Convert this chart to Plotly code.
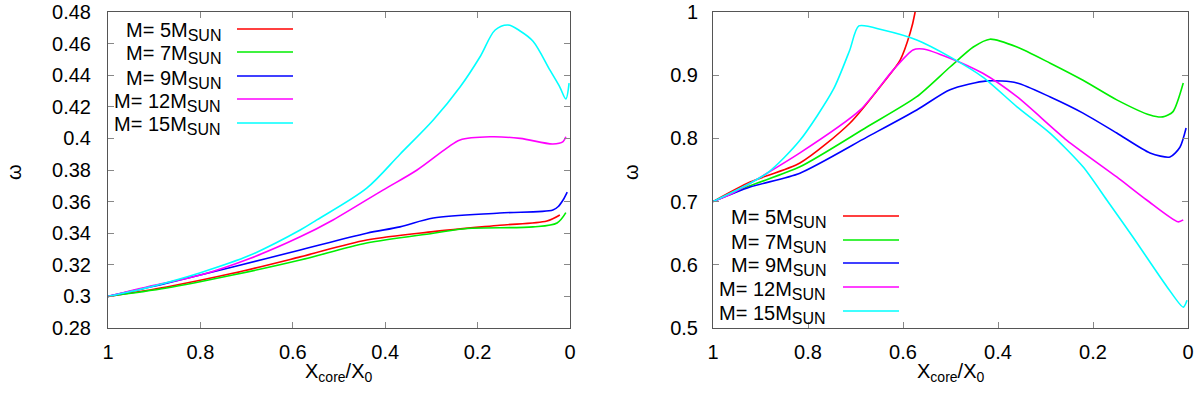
import plotly.graph_objects as go

# ---------------- data ----------------
labels = ["M= 5M", "M= 7M", "M= 9M", "M= 12M", "M= 15M"]
sub = "SUN"
colors = ["#ff0000", "#00ee00", "#0000ff", "#ff00ff", "#00ffff"]

# Left panel
L_X5 = [1, 0.873, 0.73, 0.584, 0.44, 0.296, 0.152, 0.05, 0.022]
L_W5 = [0.3, 0.306, 0.3146, 0.325, 0.3357, 0.341, 0.345, 0.3477, 0.3515]
L_X7 = [1, 0.873, 0.73, 0.584, 0.44, 0.296, 0.223, 0.08, 0.028, 0.009]
L_W7 = [0.3, 0.3053, 0.3135, 0.323, 0.3338, 0.340, 0.343, 0.344, 0.3465, 0.353]
L_X9 = [1, 0.873, 0.73, 0.584, 0.44, 0.368, 0.296, 0.152, 0.037, 0.025, 0.015, 0.006]
L_W9 = [0.3, 0.3084, 0.3186, 0.3294, 0.340, 0.344, 0.3496, 0.3528, 0.3547, 0.357, 0.361, 0.366]
L_X12 = [1, 0.9, 0.8, 0.693, 0.584, 0.513, 0.405, 0.331, 0.266, 0.238, 0.173, 0.108, 0.037, 0.015, 0.009]
L_W12 = [0.3, 0.307, 0.3135, 0.324, 0.3377, 0.3484, 0.3673, 0.380, 0.394, 0.399, 0.401, 0.400, 0.3965, 0.398, 0.401]
L_X15 = [1, 0.909, 0.8, 0.693, 0.584, 0.548, 0.44, 0.368, 0.296, 0.238, 0.195, 0.162, 0.134, 0.108, 0.08, 0.043, 0.022, 0.009, 0.002]
L_W15 = [0.3, 0.306, 0.315, 0.326, 0.342, 0.3484, 0.3685, 0.3900, 0.4116, 0.4325, 0.4515, 0.4686, 0.4718, 0.468, 0.4615, 0.443, 0.4325, 0.425, 0.435]

# Right panel
R_X5 = [1, 0.922, 0.817, 0.712, 0.642, 0.606, 0.585, 0.575, 0.568]
R_W5 = [0.7, 0.731, 0.761, 0.824, 0.8877, 0.924, 0.9668, 0.998, 1.04]
R_X7 = [1, 0.922, 0.817, 0.676, 0.571, 0.501, 0.452, 0.417, 0.36, 0.29, 0.221, 0.15, 0.08, 0.053, 0.032, 0.01]
R_W7 = [0.7, 0.725, 0.755, 0.818, 0.866, 0.913, 0.9446, 0.957, 0.9446, 0.919, 0.892, 0.861, 0.837, 0.834, 0.842, 0.8877]
R_X9 = [1, 0.922, 0.817, 0.676, 0.571, 0.501, 0.423, 0.36, 0.29, 0.221, 0.15, 0.08, 0.038, 0.017, 0.004]
R_W9 = [0.7, 0.723, 0.745, 0.802, 0.845, 0.877, 0.891, 0.8877, 0.8655, 0.840, 0.8085, 0.777, 0.7706, 0.786, 0.8165]
R_X12 = [1, 0.958, 0.817, 0.69, 0.621, 0.579, 0.558, 0.501, 0.432, 0.36, 0.255, 0.15, 0.087, 0.021, 0.01]
R_W12 = [0.7, 0.7136, 0.777, 0.845, 0.908, 0.94, 0.9415, 0.927, 0.903, 0.866, 0.797, 0.739, 0.7025, 0.668, 0.671]
R_X15 = [1, 0.886, 0.817, 0.747, 0.712, 0.693, 0.642, 0.571, 0.501, 0.432, 0.36, 0.29, 0.221, 0.171, 0.116, 0.044, 0.01, 0.002]
R_W15 = [0.7, 0.745, 0.797, 0.877, 0.94, 0.978, 0.9715, 0.9557, 0.929, 0.897, 0.85, 0.808, 0.755, 0.7025, 0.644, 0.565, 0.533, 0.544]

x_ticks = [1, 0.8, 0.6, 0.4, 0.2, 0]
x_ticktext = ["1", "0.8", "0.6", "0.4", "0.2", "0"]
left_yticks = [0.28, 0.3, 0.32, 0.34, 0.36, 0.38, 0.4, 0.42, 0.44, 0.46, 0.48]
right_yticks = [0.5, 0.6, 0.7, 0.8, 0.9, 1]

left = [(L_X5, L_W5), (L_X7, L_W7), (L_X9, L_W9), (L_X12, L_W12), (L_X15, L_W15)]
right = [(R_X5, R_W5), (R_X7, R_W7), (R_X9, R_W9), (R_X12, R_W12), (R_X15, R_W15)]

FONT = "Liberation Sans, Arial, sans-serif"
FS = 20
W, H = 1200, 396


def px(x):
    return x / W


def py(y):
    return 1 - y / H


fig = go.Figure()
for i, (xs, ws) in enumerate(left):
    fig.add_trace(go.Scatter(x=xs, y=ws, mode="lines", xaxis="x", yaxis="y",
                             line=dict(color=colors[i], width=1.6, shape="spline", smoothing=0.9),
                             showlegend=False, name=labels[i] + sub))
for i, (xs, ws) in enumerate(right):
    fig.add_trace(go.Scatter(x=xs, y=ws, mode="lines", xaxis="x2", yaxis="y2",
                             line=dict(color=colors[i], width=1.6, shape="spline", smoothing=0.7),
                             showlegend=False, name=labels[i] + sub))

ax_common = dict(showline=True, linecolor="#555555", linewidth=1, mirror="allticks",
                 ticks="inside", ticklen=6, tickcolor="#888888", showgrid=False,
                 zeroline=False, automargin=False, ticklabeloverflow="allow",
                 tickfont=dict(family=FONT, size=FS, color="black"))

fig.update_layout(
    width=W, height=H, margin=dict(l=0, r=0, t=0, b=0),
    paper_bgcolor="white", plot_bgcolor="white",
    font=dict(family=FONT, size=FS, color="black"),
    xaxis=dict(domain=[px(108), px(570)], range=[1, 0], tickvals=x_ticks, ticktext=x_ticktext,
               anchor="y", ticklabelstandoff=6, **ax_common),
    yaxis=dict(domain=[py(328), py(12)], range=[0.28, 0.48], tickvals=left_yticks,
               anchor="x", ticklabelstandoff=12, **ax_common),
    xaxis2=dict(domain=[px(713), px(1188)], range=[1, 0], tickvals=x_ticks, ticktext=x_ticktext,
                anchor="y2", ticklabelstandoff=6, **ax_common),
    yaxis2=dict(domain=[py(328), py(12)], range=[0.5, 1.0], tickvals=right_yticks,
                anchor="x2", ticklabelstandoff=10, **ax_common),
)

annotations = []
shapes = []
# axis titles (rotated like gnuplot ylabel)
for xc, yc in [(14, 172), (631, 172)]:
    annotations.append(dict(text="ω", x=px(xc), y=py(yc), xref="paper", yref="paper",
                            showarrow=False, textangle=-90, font=dict(size=FS, family=FONT),
                            xanchor="center", yanchor="middle"))
for xc in [(108 + 570) / 2, (713 + 1188) / 2]:
    annotations.append(dict(text="X<sub>core</sub>/X<sub>0</sub>", x=px(xc), y=py(372),
                            xref="paper", yref="paper", showarrow=False,
                            font=dict(size=FS, family=FONT), xanchor="center", yanchor="middle"))

# key (gnuplot style: right-aligned text followed by line sample)
legend_specs = [
    dict(text_right=223, x0=237, x1=293, rows=[29, 52, 76, 99, 123]),
    dict(text_right=828, x0=843, x1=899, rows=[216, 240, 263, 287, 311]),
]
for spec in legend_specs:
    for i, yr in enumerate(spec["rows"]):
        txt = labels[i] + "<sub><span style='font-size:16px'>" + sub + "</span></sub>"
        annotations.append(dict(text=txt, x=px(spec["text_right"]), y=py(yr + 3),
                                xref="paper", yref="paper", showarrow=False,
                                font=dict(size=FS, family=FONT), xanchor="right", yanchor="middle"))
        shapes.append(dict(type="line", xref="paper", yref="paper",
                           x0=px(spec["x0"]), x1=px(spec["x1"]), y0=py(yr), y1=py(yr),
                           line=dict(color=colors[i], width=1.6)))

fig.update_layout(annotations=annotations, shapes=shapes)
fig.write_html("out.html", config={"displayModeBar": False},
               post_script="document.body.style.margin='0';")
